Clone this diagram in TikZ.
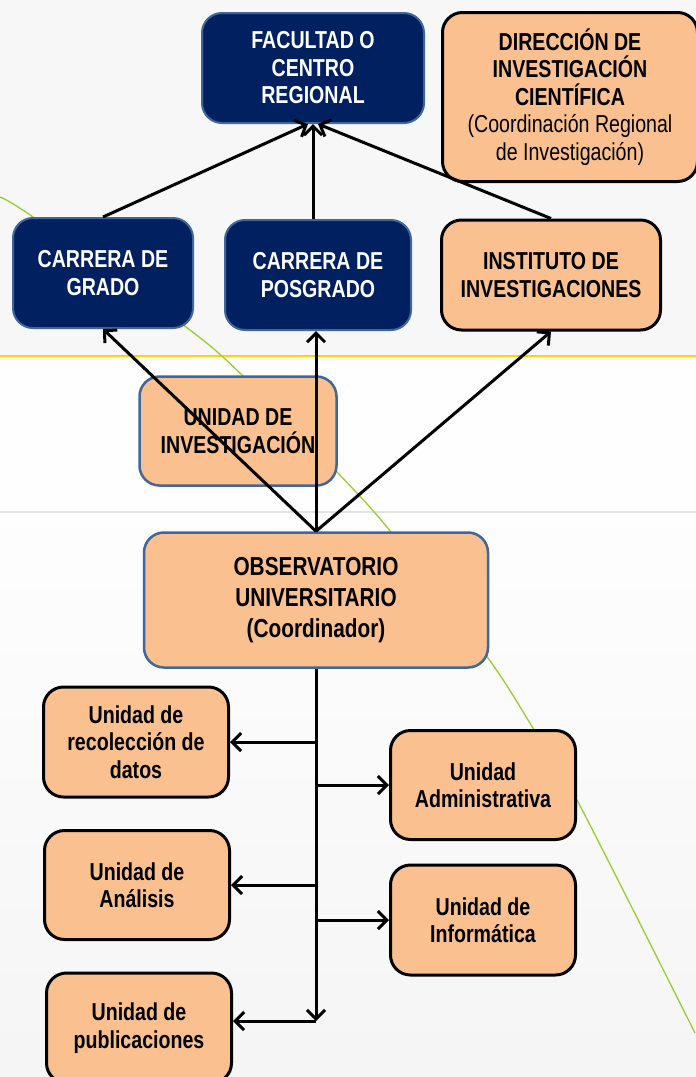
\documentclass[tikz,border=0pt]{standalone}
\usepackage{fontspec}
\setmainfont{Liberation Sans}[FakeStretch=0.8]
\usetikzlibrary{arrows.meta}
\definecolor{navy}{HTML}{002060}
\definecolor{peach}{HTML}{FAC090}
\definecolor{edgeblue}{HTML}{41669A}
\definecolor{linegreen}{HTML}{9ACD32}
\definecolor{lineyellow}{HTML}{FFD200}
\tikzset{
    unit-box/.style = {rectangle, rounded corners=20pt, inner sep=0pt, align=center, font=\bfseries\fontsize{24.5}{27.5}\selectfont},
    navy-box/.style = {unit-box, fill=navy, draw=edgeblue, line width=2pt, text=white},
    peach-box/.style = {unit-box, fill=peach, draw=black, line width=3pt},
    peach-blue-box/.style = {unit-box, fill=peach, draw=edgeblue, line width=2.5pt},
    link/.style = {draw=black, line width=3pt, -{Straight Barb[length=9pt,width=18pt]}},
}

\begin{document}
\begin{tikzpicture}[x=1pt,y=-1pt]
\useasboundingbox (0,0) rectangle (696,1077);
% slide background
\fill[gray!6] (0,0) rectangle (696,356);
\fill[gray!1] (0,356) rectangle (696,512);
\shade[top color=gray!1, bottom color=gray!8] (0,512) rectangle (696,1077);
\draw[lineyellow, line width=2pt] (0,356) -- (696,356);
\draw[gray!22, line width=1.5pt] (0,512) -- (696,512);
\draw[linegreen, line width=1.3pt] plot[smooth] coordinates {(0,197) (33,217) (186,327) (242,375) (337,472) (391,532) (488,658) (533,728) (577,800) (695,1033)};

% upper level
\node[navy-box, minimum width=222, minimum height=110] (facultad) at (313,68) {FACULTAD O\\CENTRO\\REGIONAL};
\node[peach-box, minimum width=255, minimum height=169] (direccion) at (570,97) {DIRECCIÓN DE\\INVESTIGACIÓN\\CIENTÍFICA\\{\mdseries (Coordinación Regional}\\{\mdseries de Investigación)}};
\node[navy-box, minimum width=180, minimum height=110] (grado) at (103,273) {CARRERA DE\\GRADO};
\node[navy-box, minimum width=186, minimum height=110] (posgrado) at (318,275) {CARRERA DE\\POSGRADO};
\node[peach-box, minimum width=219, minimum height=110] (instituto) at (551,275) {INSTITUTO DE\\INVESTIGACIONES};

% middle level
\node[peach-blue-box, minimum width=197, minimum height=109] (unidad-inv) at (238,431) {UNIDAD DE\\INVESTIGACIÓN};
\node[peach-blue-box, minimum width=344, minimum height=135, font=\bfseries\fontsize{26}{31}\selectfont] (obs) at (316,600) {OBSERVATORIO\\UNIVERSITARIO\\(Coordinador)};

% units
\node[peach-box, minimum width=185, minimum height=110] (recoleccion) at (136,742) {Unidad de\\recolección de\\datos};
\node[peach-box, minimum width=185, minimum height=109] (administrativa) at (483,785) {Unidad\\Administrativa};
\node[peach-box, minimum width=185, minimum height=109] (analisis) at (137,885) {Unidad de\\Análisis};
\node[peach-box, minimum width=185, minimum height=110] (informatica) at (483,920) {Unidad de\\Informática};
\node[peach-box, minimum width=185, minimum height=110] (publicaciones) at (139,1028) {Unidad de\\publicaciones};

% arrows up
\draw[link] (grado.north) -- ([xshift=-5pt]facultad.south);
\draw[link] (facultad.south |- posgrado.north) -- (facultad.south);
\draw[link] (instituto.north) -- ([xshift=5pt]facultad.south);
\draw[link] (obs.north) -- (grado.south);
\draw[link] (obs.north) -- (obs.north |- posgrado.south);
\draw[link] (obs.north) -- (instituto.south);

% trunk and branches
\coordinate (trunk-end) at (316,1021);
\draw[link] (obs.south) -- (trunk-end);
\draw[link] (trunk-end) -- (trunk-end -| publicaciones.east);
\draw[link] (obs.south |- recoleccion.east) -- (recoleccion.east);
\draw[link] (obs.south |- administrativa.west) -- (administrativa.west);
\draw[link] (obs.south |- analisis.east) -- (analisis.east);
\draw[link] (obs.south |- informatica.west) -- (informatica.west);
\end{tikzpicture}
\end{document}
